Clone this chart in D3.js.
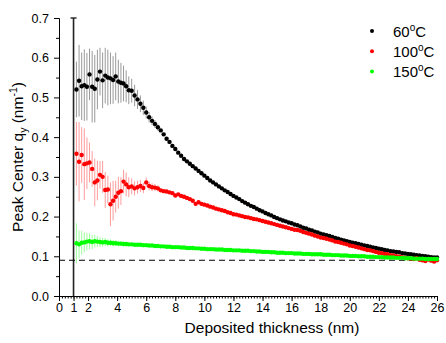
<!DOCTYPE html>
<html>
<head>
<meta charset="utf-8">
<script src="https://cdn.jsdelivr.net/npm/d3@7"></script>
<style>
  body { margin: 0; background: #fff; }
  text { font-family: Arial, "Liberation Sans", sans-serif; }
</style>
</head>
<body>
<div id="chart"></div>
<script>
// thickness (nm) where each peak center was measured
const thickness = [
  1.2, 1.38, 1.56, 1.74, 1.92, 2.1, 2.28, 2.46, 2.64, 2.82, 3, 3.18, 3.36, 3.54, 3.72, 3.9, 4.08, 4.26, 4.44, 4.62, 4.8,
  5, 5.2, 5.4, 5.6, 5.8, 6, 6.2, 6.4, 6.6, 6.8,
  7, 7.2, 7.4, 7.6, 7.8, 8, 8.2, 8.4, 8.6, 8.8,
  9, 9.2, 9.4, 9.6, 9.8, 10, 10.2, 10.4, 10.6, 10.8,
  11, 11.2, 11.4, 11.6, 11.8, 12, 12.2, 12.4, 12.6, 12.8,
  13, 13.2, 13.4, 13.6, 13.8, 14, 14.2, 14.4, 14.6, 14.8,
  15, 15.2, 15.4, 15.6, 15.8, 16, 16.2, 16.4, 16.6, 16.8,
  17, 17.2, 17.4, 17.6, 17.8, 18, 18.2, 18.4, 18.6, 18.8,
  19, 19.2, 19.4, 19.6, 19.8, 20, 20.2, 20.4, 20.6, 20.8,
  21, 21.2, 21.4, 21.6, 21.8, 22, 22.2, 22.4, 22.6, 22.8,
  23, 23.2, 23.4, 23.6, 23.8, 24, 24.2, 24.4, 24.6, 24.8,
  25, 25.2, 25.4, 25.6, 25.8, 26
];

const q60 = [
  0.520, 0.542, 0.528, 0.531, 0.527, 0.558, 0.527, 0.522, 0.545, 0.565, 0.543, 0.555, 0.550, 0.548, 0.544, 0.553, 0.540, 0.537, 0.535, 0.528, 0.518,
  0.517, 0.505, 0.495, 0.484, 0.474, 0.462, 0.450, 0.441, 0.433, 0.425,
  0.417, 0.407, 0.396, 0.388, 0.378, 0.370, 0.361, 0.353, 0.345, 0.339,
  0.333, 0.327, 0.321, 0.315, 0.309, 0.303, 0.297, 0.291, 0.286, 0.281,
  0.276, 0.271, 0.266, 0.262, 0.257, 0.252, 0.248, 0.244, 0.239, 0.235,
  0.231, 0.227, 0.224, 0.220, 0.216, 0.213, 0.209, 0.206, 0.203, 0.199,
  0.196, 0.193, 0.190, 0.188, 0.185, 0.183, 0.180, 0.178, 0.175, 0.172,
  0.170, 0.167, 0.165, 0.162, 0.160, 0.157, 0.155, 0.153, 0.151, 0.149,
  0.146, 0.144, 0.142, 0.140, 0.138, 0.136, 0.134, 0.133, 0.131, 0.129,
  0.127, 0.126, 0.124, 0.122, 0.121, 0.119, 0.118, 0.116, 0.115, 0.113,
  0.112, 0.111, 0.110, 0.108, 0.107, 0.106, 0.105, 0.104, 0.103, 0.102,
  0.101, 0.100, 0.099, 0.098, 0.097, 0.097
];
const err60 = [
  0.07, 0.09, 0.085, 0.09, 0.085, 0.065, 0.09, 0.085, 0.075, 0.06, 0.07, 0.07, 0.07, 0.065, 0.06, 0.06, 0.055, 0.05, 0.045, 0.04, 0.035,
  0.03, 0.027, 0.024, 0.021, 0.018, 0.015, 0.013, 0.011, 0.01, 0.009
];

const q100 = [
  0.358, 0.338, 0.355, 0.332, 0.334, 0.336, 0.320, 0.286, 0.291, 0.305, 0.300, 0.267, 0.268, 0.231, 0.240, 0.250, 0.260, 0.264, 0.288, 0.281, 0.274,
  0.276, 0.271, 0.274, 0.277, 0.272, 0.286, 0.277, 0.274, 0.273, 0.271,
  0.266, 0.264, 0.263, 0.261, 0.259, 0.253, 0.256, 0.252, 0.250, 0.247,
  0.244, 0.240, 0.232, 0.236, 0.232, 0.230, 0.228, 0.225, 0.223, 0.220,
  0.218, 0.216, 0.214, 0.211, 0.209, 0.206, 0.205, 0.203, 0.201, 0.199,
  0.198, 0.196, 0.194, 0.193, 0.191, 0.189, 0.187, 0.185, 0.183, 0.181,
  0.179, 0.177, 0.175, 0.173, 0.171, 0.169, 0.167, 0.166, 0.164, 0.161,
  0.159, 0.157, 0.155, 0.152, 0.150, 0.147, 0.146, 0.144, 0.142, 0.140,
  0.137, 0.136, 0.134, 0.132, 0.130, 0.127, 0.126, 0.124, 0.122, 0.120,
  0.118, 0.116, 0.115, 0.113, 0.111, 0.109, 0.108, 0.106, 0.105, 0.103,
  0.102, 0.100, 0.099, 0.098, 0.096, 0.095, 0.094, 0.093, 0.095, 0.091,
  0.090, 0.088, 0.092, 0.089, 0.087, 0.090
];
const err100 = [
  0.08, 0.1, 0.07, 0.09, 0.065, 0.05, 0.045, 0.06, 0.05, 0.035, 0.04, 0.045, 0.035, 0.055, 0.05, 0.04, 0.04, 0.035, 0.03, 0.03, 0.025,
  0.02, 0.018, 0.016, 0.015, 0.013, 0.012, 0.011, 0.01, 0.009, 0.008
];

const q150 = [
  0.133, 0.130, 0.134, 0.135, 0.137, 0.138, 0.136, 0.138, 0.137, 0.136, 0.135, 0.136, 0.134, 0.134, 0.133, 0.133, 0.132, 0.132, 0.131, 0.131, 0.130,
  0.130, 0.129, 0.129, 0.129, 0.128, 0.128, 0.127, 0.127, 0.126, 0.126,
  0.125, 0.125, 0.124, 0.124, 0.123, 0.123, 0.123, 0.122, 0.122, 0.121,
  0.121, 0.121, 0.120, 0.120, 0.119, 0.119, 0.118, 0.118, 0.118, 0.117,
  0.117, 0.117, 0.116, 0.116, 0.116, 0.115, 0.115, 0.115, 0.114, 0.114,
  0.114, 0.113, 0.113, 0.112, 0.112, 0.111, 0.111, 0.111, 0.110, 0.110,
  0.109, 0.109, 0.109, 0.108, 0.108, 0.108, 0.107, 0.107, 0.107, 0.106,
  0.106, 0.106, 0.105, 0.105, 0.105, 0.105, 0.104, 0.104, 0.104, 0.103,
  0.103, 0.103, 0.102, 0.102, 0.102, 0.101, 0.101, 0.101, 0.100, 0.100,
  0.100, 0.099, 0.099, 0.099, 0.098, 0.098, 0.098, 0.097, 0.097, 0.097,
  0.097, 0.096, 0.096, 0.096, 0.095, 0.095, 0.095, 0.094, 0.094, 0.094,
  0.094, 0.093, 0.093, 0.093, 0.093, 0.093
];
const err150 = [
  0.05, 0.035, 0.03, 0.025, 0.022, 0.02, 0.018, 0.016, 0.014, 0.012, 0.011, 0.01, 0.009, 0.008, 0.008, 0.007, 0.007, 0.006, 0.006, 0.006, 0.005
];

const seriesNames = ['60', '100', '150'];
const seriesColors = ['#000000', '#ff0000', '#00ff00'];
const errColors = ['#999999', '#ff9c9c', '#9cff9c'];
const xTicks = [0, 1, 2, 4, 6, 8, 10, 12, 14, 16, 18, 20, 22, 24, 26];
const yTicks = [0, 0.1, 0.2, 0.3, 0.4, 0.5, 0.6, 0.7];
const baseline = 0.09;
const markerX = 1;

const W = 446, H = 343;
const margin = { top: 18, right: 9, bottom: 47, left: 59 };
const width = W - margin.left - margin.right;
const height = H - margin.top - margin.bottom;

const svg = d3.select('#chart')
  .append('svg')
  .attr('width', W)
  .attr('height', H)
  .append('g')
  .attr('transform', `translate(${margin.left}, ${margin.top})`);

const x = d3.scaleLinear().domain([0, 26]).range([0, width]);
const y = d3.scaleLinear().domain([0, 0.7]).range([height, 0]);

// axes
svg.append('g')
  .call(d3.axisLeft(y).tickValues(yTicks).tickFormat(d3.format('.1f')).tickSize(5).tickPadding(5))
  .attr('font-size', '12.5px');
svg.append('g')
  .call(d3.axisLeft(y).tickValues(d3.range(0.05, 0.7, 0.1)).tickFormat('').tickSize(3))
  .call(g => g.select('.domain').remove());

svg.append('g')
  .attr('transform', `translate(0, ${height})`)
  .call(d3.axisBottom(x).tickValues(xTicks).tickSize(5).tickPadding(2).tickSizeOuter(0))
  .attr('font-size', '12.5px');
svg.append('g')
  .attr('transform', `translate(0, ${height})`)
  .call(d3.axisBottom(x).tickValues(d3.range(0.2, 26, 0.2)).tickFormat('').tickSize(2.5))
  .call(g => g.select('.domain').remove());

svg.selectAll('.tick text').attr('fill', '#000').style('font-family', 'Arial, "Liberation Sans", sans-serif');
svg.selectAll('.domain, .tick line').attr('stroke', '#000');

// reference lines
svg.append('line')
  .attr('x1', x(markerX)).attr('x2', x(markerX))
  .attr('y1', y(0)).attr('y2', y(0.7))
  .attr('stroke', '#222').attr('stroke-width', 1.6);
svg.append('line')
  .attr('x1', x(markerX) - 3).attr('x2', x(markerX) + 3)
  .attr('y1', y(0.7)).attr('y2', y(0.7))
  .attr('stroke', '#222').attr('stroke-width', 1.4);

svg.append('line')
  .attr('x1', x(0)).attr('x2', x(26))
  .attr('y1', y(baseline)).attr('y2', y(baseline))
  .attr('stroke', '#000').attr('stroke-width', 1.2)
  .attr('stroke-dasharray', '6,4');

const series = [
  { name: seriesNames[0], q: q60, err: err60 },
  { name: seriesNames[1], q: q100, err: err100 },
  { name: seriesNames[2], q: q150, err: err150 }
];

// error bars first
series.forEach((s, i) => {
  svg.append('g')
    .selectAll('line')
    .data(s.err)
    .enter()
    .append('line')
    .attr('x1', (d, j) => x(thickness[j]))
    .attr('x2', (d, j) => x(thickness[j]))
    .attr('y1', (d, j) => y(s.q[j] - d))
    .attr('y2', (d, j) => y(s.q[j] + d))
    .attr('stroke', errColors[i])
    .attr('stroke-width', 1);
});

// points
series.forEach((s, i) => {
  svg.append('g')
    .selectAll('circle')
    .data(s.q)
    .enter()
    .append('circle')
    .attr('cx', (d, j) => x(thickness[j]))
    .attr('cy', d => y(d))
    .attr('r', 2.2)
    .attr('fill', seriesColors[i]);
});

// legend
const legend = svg.append('g').attr('transform', `translate(${372 - margin.left}, ${31 - margin.top})`);
series.forEach((s, i) => {
  const row = legend.append('g').attr('transform', `translate(0, ${i * 20.3})`);
  row.append('circle').attr('r', 2).attr('fill', seriesColors[i]);
  const t = row.append('text').attr('x', 21).attr('y', 5.5).attr('font-size', '15px');
  t.append('tspan').text(s.name);
  t.append('tspan').attr('font-size', '10px').attr('dy', -6).text('o');
  t.append('tspan').attr('dy', 6).text('C');
});

// axis titles
svg.append('text')
  .attr('x', 272 - margin.left)
  .attr('y', 333 - margin.top)
  .attr('text-anchor', 'middle')
  .attr('font-size', '15.5px')
  .text('Deposited thickness (nm)');

const yt = svg.append('text')
  .attr('transform', `translate(${23 - margin.left}, ${157 - margin.top}) rotate(-90)`)
  .attr('text-anchor', 'middle')
  .attr('font-size', '15.5px');
yt.append('tspan').text('Peak Center q');
yt.append('tspan').attr('font-size', '10.5px').attr('dy', 4).text('y');
yt.append('tspan').attr('dy', -4).text(' (nm');
yt.append('tspan').attr('font-size', '10.5px').attr('dy', -6).text('-1');
yt.append('tspan').attr('dy', 6).text(')');
</script>
</body>
</html>
